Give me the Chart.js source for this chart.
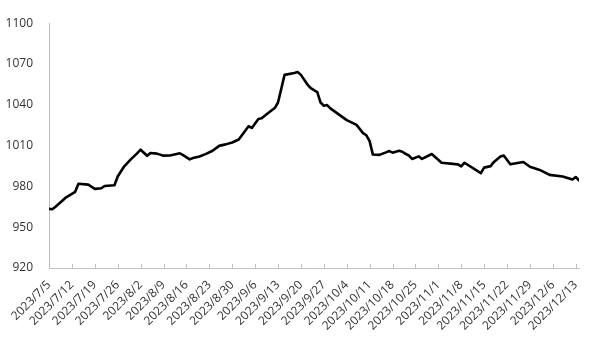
<!DOCTYPE html>
<html>
<head>
<meta charset="utf-8">
<script src="https://cdn.jsdelivr.net/npm/chart.js@4/dist/chart.umd.min.js"></script>
<style>
  html, body { margin: 0; padding: 0; background: #fff; }
  #wrap { width: 600px; height: 341px; }
</style>
</head>
<body>
<div id="wrap"><canvas id="c"></canvas></div>
<script>
// day offsets from 2023/7/5 and the index value
const dayOffsets = [0, 1, 2, 5, 8, 9, 12, 14, 16, 17, 20, 21, 23, 25, 27, 28, 30, 31, 33, 35, 37, 40, 41, 43, 44, 46, 48, 50, 52, 54, 56, 58, 61, 62, 64, 65, 67, 69, 70, 72, 75, 76, 77, 79, 80, 82, 83, 84, 85, 86, 91, 94, 96, 97, 98, 99, 101, 103, 104, 105, 107, 108, 109, 110, 111, 113, 114, 117, 120, 125, 126, 127, 132, 133, 135, 136, 138, 139, 141, 145, 147, 150, 153, 157, 160, 161, 162];
const values = [963.5, 963.2, 965, 971.5, 976, 982, 981.3, 978.2, 978.6, 980.3, 980.9, 987.3, 994.8, 999.9, 1004.5, 1007, 1002.5, 1004.6, 1004.1, 1002.6, 1002.7, 1004.3, 1003, 999.9, 1000.8, 1002, 1003.9, 1006.2, 1009.8, 1010.9, 1012.3, 1014.5, 1024.2, 1023, 1029.6, 1030.1, 1033.9, 1037.6, 1041.7, 1062, 1063.4, 1064.1, 1062, 1054.9, 1052.3, 1049.3, 1041.7, 1039.3, 1039.8, 1037.4, 1028.7, 1025.2, 1019.2, 1017.6, 1013.3, 1003.4, 1003.2, 1005, 1006, 1004.8, 1006.2, 1005.5, 1003.9, 1002.7, 1000.2, 1002.1, 1000.2, 1003.8, 997.4, 996.2, 994.7, 997.4, 989.7, 993.8, 994.9, 998, 1002, 1002.7, 996.3, 997.9, 994.4, 992.1, 988.5, 987.3, 985, 986.9, 984.4];

const tickLabels = ['2023/7/5', '2023/7/12', '2023/7/19', '2023/7/26', '2023/8/2', '2023/8/9', '2023/8/16', '2023/8/23', '2023/8/30', '2023/9/6', '2023/9/13', '2023/9/20', '2023/9/27', '2023/10/4', '2023/10/11', '2023/10/18', '2023/10/25', '2023/11/1', '2023/11/8', '2023/11/15', '2023/11/22', '2023/11/29', '2023/12/6', '2023/12/13'];
const tickDays = tickLabels.map((_, i) => i * 7);

const yTicks = [920, 950, 980, 1010, 1040, 1070, 1100];

const axisGrey = '#bfbfbf';
const textColor = '#333333';
const font = { family: 'Open Sans', size: 12 };

// small tick marks pointing up into the plot, like the original
const innerTicks = {
  id: 'innerTicks',
  afterDraw(chart) {
    const x = chart.scales.x;
    const ctx = chart.ctx;
    const yb = chart.chartArea.bottom;
    ctx.save();
    ctx.strokeStyle = axisGrey;
    ctx.lineWidth = 1;
    ctx.beginPath();
    tickDays.forEach(d => {
      const px = Math.round(x.getPixelForValue(d)) + 0.5;
      ctx.moveTo(px, yb);
      ctx.lineTo(px, yb - 4);
    });
    ctx.stroke();
    ctx.restore();
  }
};

new Chart(document.getElementById('c'), {
  type: 'line',
  data: {
    datasets: [{
      data: dayOffsets.map((d, i) => ({ x: d, y: values[i] })),
      borderColor: '#000',
      borderWidth: 2.6,
      pointRadius: 0,
      tension: 0,
      borderJoinStyle: 'round',
      borderCapStyle: 'round'
    }]
  },
  options: {
    responsive: true,
    maintainAspectRatio: false,
    animation: false,
    layout: { padding: { top: 13, right: 21, left: 0, bottom: 0 } },
    plugins: { legend: { display: false }, tooltip: { enabled: false } },
    scales: {
      x: {
        type: 'linear',
        min: 0,
        max: 162,
        afterBuildTicks: s => { s.ticks = tickDays.map(v => ({ value: v })); },
        afterFit: s => { s.height = 73; },
        grid: { display: false, drawTicks: false },
        border: { color: axisGrey, width: 1 },
        ticks: {
          autoSkip: false,
          maxRotation: 45,
          minRotation: 45,
          padding: 10,
          color: textColor,
          font: font,
          callback: (v, i) => tickLabels[i]
        }
      },
      y: {
        min: 920,
        max: 1100,
        afterBuildTicks: s => { s.ticks = yTicks.map(v => ({ value: v })); },
        afterFit: s => { s.width = 49; },
        grid: { display: false, drawTicks: false },
        border: { color: axisGrey, width: 1 },
        ticks: { padding: 16, color: textColor, font: font, callback: v => String(v) }
      }
    }
  },
  plugins: [innerTicks]
});
</script>
</body>
</html>
